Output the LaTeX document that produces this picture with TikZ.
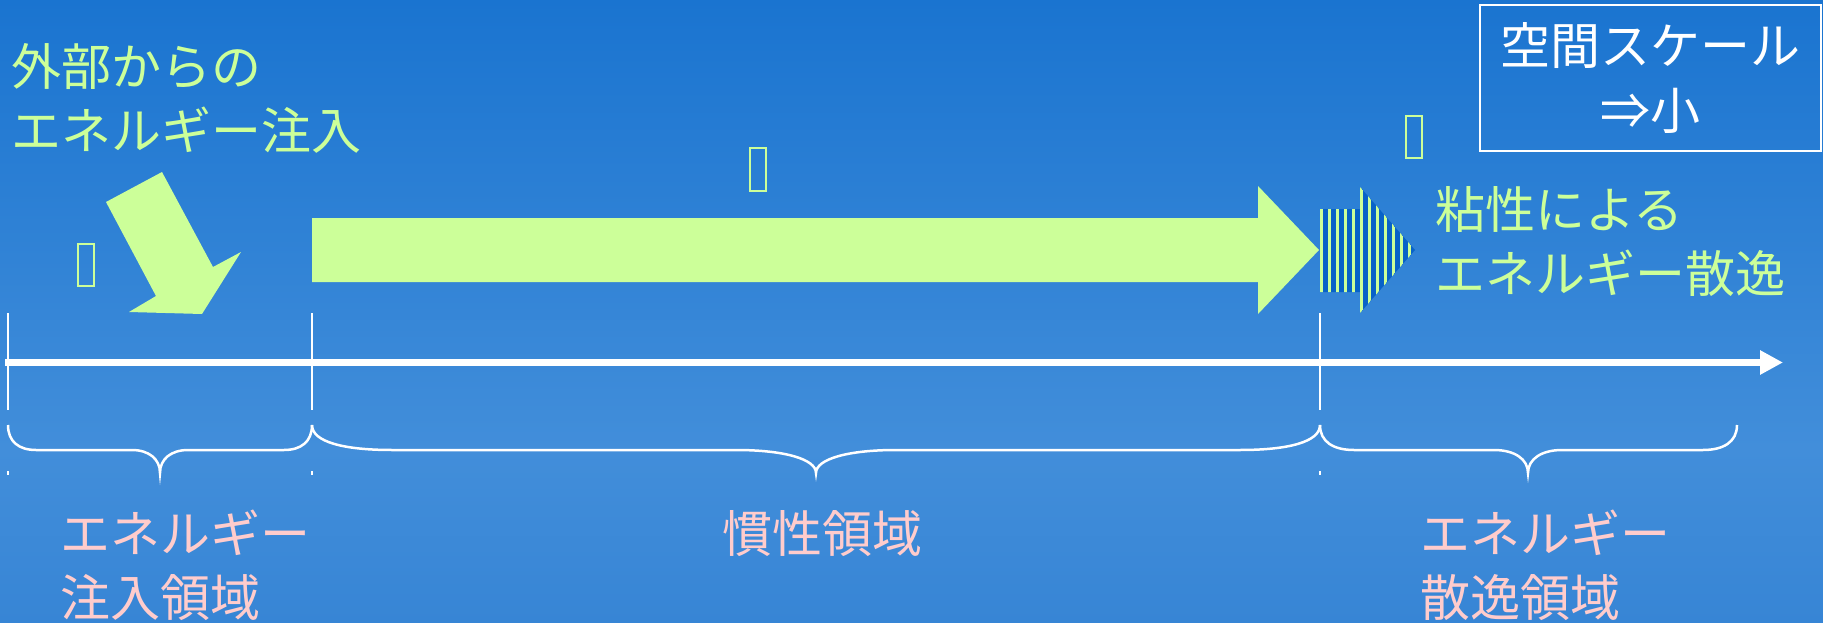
\documentclass[tikz,border=0pt]{standalone}
\usepackage{fontspec}
\newfontfamily\jpfont{Noto Sans CJK JP}
\usepackage{tikz}
\usetikzlibrary{arrows.meta}
\usepackage{xcolor}

\definecolor{leaf}{RGB}{204,255,153}
\definecolor{blush}{RGB}{255,204,204}
\definecolor{bgtop}{RGB}{26,116,208}
\definecolor{bgmid}{RGB}{66,142,218}
\definecolor{bgbot}{RGB}{55,133,213}
\definecolor{stripeblue}{RGB}{8,98,200}
\pgfdeclareverticalshading{bgshade}{100bp}{color(0bp)=(bgbot); color(25bp)=(bgbot); color(39bp)=(bgmid); color(75bp)=(bgtop); color(100bp)=(bgtop)}

\tikzset{
    greentext/.style={text=leaf, font=\jpfont\fontsize{50}{64}\selectfont, align=left, anchor=west, inner sep=0pt},
    pinktext/.style={greentext, text=blush},
    scalebox/.style={draw=white, line width=2pt, text=white, font=\jpfont\fontsize{50}{65}\selectfont, align=center, minimum width=341pt, minimum height=146pt, inner sep=0pt},
    tofu/.style={draw=leaf, line width=2pt, minimum width=16pt, minimum height=42pt, inner sep=0pt},
    axisline/.style={white, line width=7pt, -{Triangle[length=23pt,width=23pt]}},
    tickline/.style={white, line width=2pt},
    bracket/.style={white, line width=2.5pt}
}

\begin{document}
\begin{tikzpicture}[x=1pt,y=-1pt]
        \useasboundingbox (0,0) rectangle (1823,623);
        \shade[shading=bgshade] (0,0) rectangle (1823,623);
        % energy arrows
        \fill[leaf] (106,202) -- (162,172) -- (213,267) -- (241,252) -- (202,314) -- (129,312) -- (156,296) -- cycle;
        \fill[leaf] (312,218) -- (1258,218) -- (1258,186) -- (1319,250) -- (1258,314) -- (1258,282) -- (312,282) -- cycle;
        \begin{scope}
            \clip (1320,209) -- (1360,209) -- (1360,187) -- (1415,250) -- (1360,313) -- (1360,292) -- (1320,292) -- cycle;
            \fill[stripeblue] (1320,187) rectangle (1416,313);
            \foreach \i in {0,...,11}
                \fill[leaf] (1320+8*\i,187) rectangle ++(3.4,126);
        \end{scope}
        % scale axis
        \coordinate (axl) at (5,362.5);
        \coordinate (axr) at (1783,362.5);
        \draw[axisline] (axl) -- (axr);
        \foreach \x [count=\i] in {8,312,1320}
        {
            \coordinate (tk\i) at (\x,313);
            \draw[tickline] (tk\i) -- ++(0,97);
            \draw[tickline] (\x,471) -- ++(0,4);
        }
        \foreach \a/\m/\b/\r in {8/160/312/28, 312/816/1320/80, 1320/1528/1737/34}
        {
            \draw[bracket] (\a,425) .. controls (\a,442) and (\a+\r*0.4,450) .. (\a+\r,450) -- (\m-\r,450)
                .. controls (\m-\r*0.4,450) and (\m,459) .. (\m,473)
                .. controls (\m,459) and (\m+\r*0.4,450) .. (\m+\r,450) -- (\b-\r,450)
                .. controls (\b-\r*0.4,450) and (\b,442) .. (\b,425);
        }
        % labels
        \node[greentext] (inject) at (11,98) {外部からの\\エネルギー注入};
        \node[greentext] (dissip) at (1435,242) {粘性による\\エネルギー散逸};
        \node[scalebox] (scale) at (1650.5,78) {空間スケール\\⇒小};
        \node[pinktext] (injzone) at (60,565) {エネルギー\\注入領域};
        \node[pinktext, anchor=center] (inertial) at (822,534) {慣性領域};
        \node[pinktext] (dispzone) at (1420,565) {エネルギー\\散逸領域};
        \foreach \x/\y [count=\i] in {85.5/265, 757.5/169.5, 1413.5/137.5}
            \node[tofu] (tofu\i) at (\x,\y) {};
    \end{tikzpicture}
\end{document}
